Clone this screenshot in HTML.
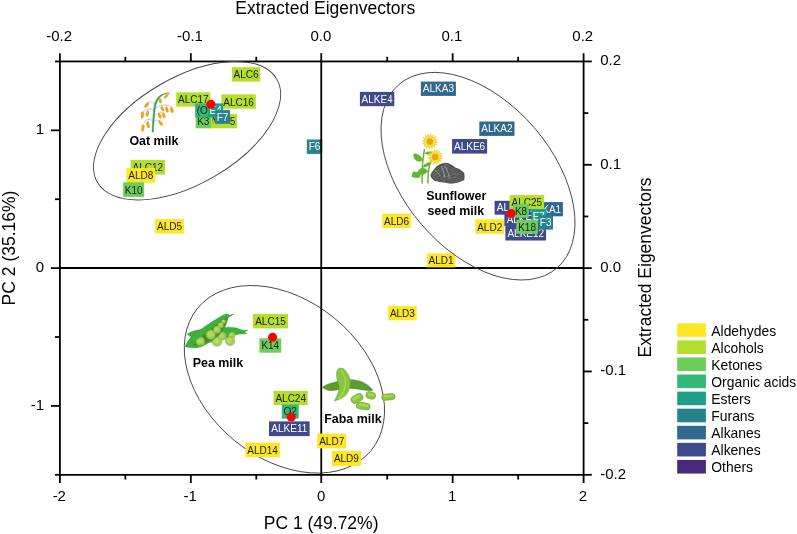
<!DOCTYPE html>
<html lang="en"><head><meta charset="utf-8"><title>PCA biplot of plant-based milks</title>
<style>
html,body{margin:0;padding:0;background:#fff;}
body{width:797px;height:534px;overflow:hidden;}
svg{display:block;will-change:transform;font-family:"Liberation Sans",sans-serif;}
.tick{font-size:15px;fill:#000;}
.ttl{font-size:17.5px;fill:#000;}
.leg{font-size:13.9px;fill:#000;}
.grp{font-size:12.45px;font-weight:bold;fill:#000;}
</style></head><body>
<svg width="797" height="534" viewBox="0 0 797 534">
<rect width="797" height="534" fill="#fff"/>
<g id="labels-under">
<rect x="306.8" y="139.5" width="15.4" height="14.4" fill="#26828E"/>
<text x="314.5" y="150.3" fill="#ffffff" font-size="10.0" text-anchor="middle">F6</text>
</g>
<g id="ellipses-under">
<ellipse cx="284.4" cy="379.3" rx="112.2" ry="79.0" transform="rotate(39.4 284.4 379.3)" fill="none" stroke="#444" stroke-width="0.9"/>
</g>
<g id="axes" stroke="#000" stroke-width="1.8" fill="none">
<rect x="59.9" y="61.45" width="523.7" height="413.4"/>
<line x1="321.25" y1="61.45" x2="321.25" y2="474.8"/>
<line x1="59.9" y1="268.0" x2="583.6" y2="268.0"/>
<line x1="59.90" y1="474.8" x2="59.90" y2="483.0"/>
<line x1="59.90" y1="61.45" x2="59.90" y2="53.2"/>
<line x1="125.36" y1="474.8" x2="125.36" y2="479.5"/>
<line x1="125.36" y1="61.45" x2="125.36" y2="56.8"/>
<line x1="190.83" y1="474.8" x2="190.83" y2="483.0"/>
<line x1="190.83" y1="61.45" x2="190.83" y2="53.2"/>
<line x1="256.29" y1="474.8" x2="256.29" y2="479.5"/>
<line x1="256.29" y1="61.45" x2="256.29" y2="56.8"/>
<line x1="321.25" y1="474.8" x2="321.25" y2="483.0"/>
<line x1="321.25" y1="61.45" x2="321.25" y2="53.2"/>
<line x1="387.21" y1="474.8" x2="387.21" y2="479.5"/>
<line x1="387.21" y1="61.45" x2="387.21" y2="56.8"/>
<line x1="452.68" y1="474.8" x2="452.68" y2="483.0"/>
<line x1="452.68" y1="61.45" x2="452.68" y2="53.2"/>
<line x1="518.14" y1="474.8" x2="518.14" y2="479.5"/>
<line x1="518.14" y1="61.45" x2="518.14" y2="56.8"/>
<line x1="583.60" y1="474.8" x2="583.60" y2="483.0"/>
<line x1="583.60" y1="61.45" x2="583.60" y2="53.2"/>
<line x1="59.9" y1="61.45" x2="55.0" y2="61.45"/>
<line x1="59.9" y1="130.34" x2="50.9" y2="130.34"/>
<line x1="59.9" y1="199.23" x2="55.0" y2="199.23"/>
<line x1="59.9" y1="268.13" x2="50.9" y2="268.13"/>
<line x1="59.9" y1="337.02" x2="55.0" y2="337.02"/>
<line x1="59.9" y1="405.91" x2="50.9" y2="405.91"/>
<line x1="59.9" y1="474.80" x2="55.0" y2="474.80"/>
<line x1="583.6" y1="61.45" x2="591.8" y2="61.45"/>
<line x1="583.6" y1="113.12" x2="588.3" y2="113.12"/>
<line x1="583.6" y1="164.79" x2="591.8" y2="164.79"/>
<line x1="583.6" y1="216.46" x2="588.3" y2="216.46"/>
<line x1="583.6" y1="268.12" x2="591.8" y2="268.12"/>
<line x1="583.6" y1="319.79" x2="588.3" y2="319.79"/>
<line x1="583.6" y1="371.46" x2="591.8" y2="371.46"/>
<line x1="583.6" y1="423.13" x2="588.3" y2="423.13"/>
<line x1="583.6" y1="474.80" x2="591.8" y2="474.80"/>
</g>
<g id="ticklabels" class="tick">
<text x="59.3" y="500.8" text-anchor="middle">-2</text>
<text x="190.2" y="500.8" text-anchor="middle">-1</text>
<text x="321.1" y="500.8" text-anchor="middle">0</text>
<text x="452.1" y="500.8" text-anchor="middle">1</text>
<text x="583.0" y="500.8" text-anchor="middle">2</text>
<text x="59.1" y="41.2" text-anchor="middle">-0.2</text>
<text x="190.0" y="41.2" text-anchor="middle">-0.1</text>
<text x="320.9" y="41.2" text-anchor="middle">0.0</text>
<text x="451.9" y="41.2" text-anchor="middle">0.1</text>
<text x="582.8" y="41.2" text-anchor="middle">0.2</text>
<text x="44.2" y="134.3" text-anchor="end">1</text>
<text x="44.2" y="272.1" text-anchor="end">0</text>
<text x="44.2" y="409.9" text-anchor="end">-1</text>
<text x="600.2" y="65.4">0.2</text>
<text x="600.2" y="168.7">0.1</text>
<text x="600.2" y="272.0">0.0</text>
<text x="600.2" y="375.4">-0.1</text>
<text x="600.2" y="478.7">-0.2</text>
</g>
<g id="titles" class="ttl">
<text x="325.2" y="13.8" text-anchor="middle">Extracted Eigenvectors</text>
<text x="321.1" y="529.2" text-anchor="middle">PC 1 (49.72%)</text>
<text transform="translate(14.7 248.0) rotate(-90)" text-anchor="middle">PC 2 (35.16%)</text>
<text transform="translate(651.3 267.5) rotate(-90)" text-anchor="middle">Extracted Eigenvectors</text>
</g>
<g id="pics">
<g id="oat" fill="none" stroke-linecap="round">
<path d="M155.2 104.2 C153.5 102.4 151.8 101.7 150.3 101.9 C148.8 102.1 147.6 102.8 146.7 103.7" stroke="#a8a8a8" stroke-width="0.6"/>
<path d="M153.9 110.0 C152 109.0 150.2 108.8 148.5 109.1 C146.4 109.5 144.4 110.2 143.1 111.6" stroke="#a8a8a8" stroke-width="0.6"/>
<path d="M150.0 109.0 C149 109.6 148.2 110.3 147.6 111.2" stroke="#a8a8a8" stroke-width="0.6"/>
<path d="M154.3 109.6 C156 107.6 158 106.2 160.2 105.5 C162.4 104.9 164.4 104.8 166.4 105.1 C168.6 105.5 170.4 106.2 171.8 107.3" stroke="#a8a8a8" stroke-width="0.6"/>
<path d="M161.0 105.4 C161.8 106.0 162.2 106.6 162.4 107.2" stroke="#a8a8a8" stroke-width="0.6"/>
<path d="M166.0 105.1 C166.6 105.8 166.9 106.4 167.0 107.0" stroke="#a8a8a8" stroke-width="0.6"/>
<path d="M153.9 117.7 C154.8 115.8 156 114.4 157.5 113.6 C159 112.8 160.5 112.6 162.0 112.7 C162.8 112.8 163.4 113.0 163.8 113.2" stroke="#a8a8a8" stroke-width="0.6"/>
<path d="M158.6 113.2 C159.2 113.6 159.5 114.0 159.7 114.4" stroke="#a8a8a8" stroke-width="0.6"/>
<path d="M153.0 121.2 C151.6 119.9 150 119.3 148.5 119.4 C146.6 119.6 145.0 120.8 144.0 122.6" stroke="#a8a8a8" stroke-width="0.6"/>
<path d="M148.6 119.4 C148.3 120.2 148.1 121.0 148.0 121.8" stroke="#a8a8a8" stroke-width="0.6"/>
<path d="M153.4 122.6 C154.4 121.3 155.4 120.6 156.6 120.3 C157.8 120.1 158.8 120.2 159.7 120.8" stroke="#a8a8a8" stroke-width="0.6"/>
<path d="M152.0 132.0 C152.3 124 152.8 116 153.7 108.6 C154.4 103.5 155.6 99.8 158.2 97.0 C160.4 94.8 163 93.8 165.6 93.3 L165.7 94.0 C163.4 94.6 161.2 95.8 159.4 97.9 C157.2 100.5 156.0 104.0 155.4 108.8 C154.4 116 153.8 124 153.5 132.0Z" fill="#2F9F5B" stroke="#2F9F5B" stroke-width="0.3"/>
</g>
<g id="oat-grains" fill="#EDA51C" stroke="#D98F12" stroke-width="0.3">
<ellipse cx="167.3" cy="93.6" rx="1.0" ry="2.5" transform="rotate(80 167.3 93.6)"/>
<ellipse cx="166.0" cy="96.5" rx="1.05" ry="2.4" transform="rotate(55 166.0 96.5)"/>
<ellipse cx="160.3" cy="100.6" rx="1.3" ry="2.8" transform="rotate(-18 160.3 100.6)"/>
<ellipse cx="146.7" cy="105.1" rx="1.4" ry="3.0" transform="rotate(40 146.7 105.1)"/>
<ellipse cx="142.4" cy="115.0" rx="1.4" ry="3.4" transform="rotate(5 142.4 115.0)"/>
<ellipse cx="147.4" cy="113.6" rx="1.3" ry="3.0" transform="rotate(10 147.4 113.6)"/>
<ellipse cx="162.4" cy="108.8" rx="1.3" ry="2.6" transform="rotate(-30 162.4 108.8)"/>
<ellipse cx="166.9" cy="109.6" rx="1.3" ry="3.0" transform="rotate(-15 166.9 109.6)"/>
<ellipse cx="171.8" cy="110.0" rx="1.4" ry="3.0" transform="rotate(-15 171.8 110.0)"/>
<ellipse cx="159.7" cy="115.9" rx="1.4" ry="2.9" transform="rotate(-25 159.7 115.9)"/>
<ellipse cx="163.8" cy="115.4" rx="1.3" ry="2.8" transform="rotate(-15 163.8 115.4)"/>
<ellipse cx="142.9" cy="128.0" rx="1.4" ry="3.6" transform="rotate(8 142.9 128.0)"/>
<ellipse cx="148.0" cy="124.8" rx="1.4" ry="3.3" transform="rotate(-12 148.0 124.8)"/>
<ellipse cx="160.6" cy="123.0" rx="1.4" ry="2.9" transform="rotate(-35 160.6 123.0)"/>
</g>
<g id="sunflower">
<path d="M422.1 183.6 C422.0 176 422.2 170 422.5 165 C422.9 159 423.6 154 424.4 149.2" fill="none" stroke="#6DB534" stroke-width="1.5"/>
<path d="M428.0 183.6 C428.0 179 428.1 176 428.3 173 C428.6 169.5 429.2 166.5 430.0 164.0 C430.6 162.6 431.4 161.6 432.2 161.0" fill="none" stroke="#6DB534" stroke-width="1.5"/>
<path d="M422.6 160.2 C421.8 157.6 419.6 155.0 416.4 153.9 C415.4 153.6 414.4 153.8 413.5 154.3 C413.6 156.0 414.0 157.6 414.8 158.9 C416.4 161.2 419.6 162.2 422.6 160.2Z" fill="#63B72F" stroke="#4C9A24" stroke-width="0.4"/>
<path d="M424.8 153.4 C426.6 151.8 429.6 151.4 432.2 152.2 C430.6 154.2 427.4 154.8 424.8 153.4Z" fill="#63B72F" stroke="#4C9A24" stroke-width="0.4"/>
<path d="M422.8 166.9 C424.0 164.4 427.2 162.4 430.6 162.3 C430.0 165.0 426.8 167.6 422.8 166.9Z" fill="#63B72F" stroke="#4C9A24" stroke-width="0.4"/>
<path d="M417.5 172.5 C418.6 170.0 420.4 168.2 422.6 167.9 C425.0 168.2 426.8 169.6 427.8 171.3 C426.6 173.2 424.6 174.2 422.6 174.2 C420.6 174.2 418.8 173.6 417.5 172.5Z" fill="#63B72F" stroke="#4C9A24" stroke-width="0.4"/>
<path d="M411.8 176.4 C412.0 174.6 412.6 173.0 413.6 171.8 C416.2 171.8 418.8 172.8 420.5 174.6 C420.4 175.8 420.0 176.8 419.2 177.5 C416.8 177.9 414.2 177.4 411.8 176.4Z" fill="#63B72F" stroke="#4C9A24" stroke-width="0.4"/>
<polygon points="437.76,142.29 434.89,143.02 436.86,145.24 433.92,144.82 434.90,147.62 432.35,146.10 432.18,149.06 430.40,146.69 429.11,149.36 428.38,146.49 426.16,148.46 426.58,145.52 423.78,146.50 425.30,143.95 422.34,143.78 424.71,142.00 422.04,140.71 424.91,139.98 422.94,137.76 425.88,138.18 424.90,135.38 427.45,136.90 427.62,133.94 429.40,136.31 430.69,133.64 431.42,136.51 433.64,134.54 433.22,137.48 436.02,136.50 434.50,139.05 437.46,139.22 435.09,141.00" fill="#F6E23A" stroke="#D9BE28" stroke-width="0.4" stroke-linejoin="round"/>
<circle cx="429.9" cy="141.5" r="3.2" fill="#EBA21C"/>
<polygon points="442.66,158.91 439.78,159.19 441.36,161.62 438.60,160.78 439.13,163.62 436.89,161.79 436.30,164.62 434.93,162.07 433.29,164.46 433.01,161.58 430.58,163.16 431.42,160.40 428.58,160.93 430.41,158.69 427.58,158.10 430.13,156.73 427.74,155.09 430.62,154.81 429.04,152.38 431.80,153.22 431.27,150.38 433.51,152.21 434.10,149.38 435.47,151.93 437.11,149.54 437.39,152.42 439.82,150.84 438.98,153.60 441.82,153.07 439.99,155.31 442.82,155.90 440.27,157.27" fill="#F6E23A" stroke="#D9BE28" stroke-width="0.4" stroke-linejoin="round"/>
<circle cx="435.2" cy="157.0" r="3.2" fill="#EBA21C"/>
<path d="M431.5 176 C432 170 437 164.5 443 163.2 C448 162.6 452 164.5 455 167.5 C460 168.5 464 172 464.6 176 C464.8 180 460 183 453 183.2 C446 183.4 437 182 433.5 179.6 C432 178.6 431.4 177.4 431.5 176Z" fill="#4f4f4f"/>
<g stroke="#727272" stroke-width="0.35">
<ellipse cx="436.5" cy="172.5" rx="6.5" ry="3.4" transform="rotate(-35 436.5 172.5)" fill="#4f4f4f"/>
<ellipse cx="442.5" cy="167.5" rx="7.8" ry="3.6" transform="rotate(-20 442.5 167.5)" fill="#4f4f4f"/>
<ellipse cx="450.0" cy="168.2" rx="7.0" ry="3.2" transform="rotate(25 450.0 168.2)" fill="#4f4f4f"/>
<ellipse cx="456.5" cy="172.8" rx="8.0" ry="3.4" transform="rotate(12 456.5 172.8)" fill="#4f4f4f"/>
<ellipse cx="439.5" cy="177.8" rx="8.0" ry="3.6" transform="rotate(12 439.5 177.8)" fill="#4f4f4f"/>
<ellipse cx="449.5" cy="177.0" rx="8.5" ry="3.6" transform="rotate(-14 449.5 177.0)" fill="#4f4f4f"/>
<ellipse cx="458.5" cy="177.2" rx="6.2" ry="3.0" transform="rotate(22 458.5 177.2)" fill="#4f4f4f"/>
<ellipse cx="446.0" cy="172.2" rx="7.5" ry="3.2" transform="rotate(55 446.0 172.2)" fill="#4f4f4f"/>
<ellipse cx="452.5" cy="180.6" rx="7.5" ry="2.7" transform="rotate(-6 452.5 180.6)" fill="#4f4f4f"/>
<ellipse cx="434.6" cy="177.0" rx="4.6" ry="2.8" transform="rotate(50 434.6 177.0)" fill="#4f4f4f"/>
</g>
<path d="M441.6 166.6 C443.4 170 444.2 173.6 444.4 177 M444.6 166.0 C447 169.6 448.6 173.4 449.4 177.4 M434.8 170.4 C437 172 438.8 173.8 440.2 175.8" fill="none" stroke="#d8d8d8" stroke-width="0.6" stroke-linecap="round"/>
<g stroke="#8e8e8e" stroke-width="0.35" fill="none">
<path d="M431.6 171.4 L441.4 171.4" transform="rotate(-35 436.5 172.5)"/>
<path d="M431.6 173.6 L441.4 173.6" transform="rotate(-35 436.5 172.5)"/>
<path d="M436.6 166.3 L448.4 166.3" transform="rotate(-20 442.5 167.5)"/>
<path d="M436.6 168.7 L448.4 168.7" transform="rotate(-20 442.5 167.5)"/>
<path d="M444.8 167.1 L455.2 167.1" transform="rotate(25 450.0 168.2)"/>
<path d="M444.8 169.3 L455.2 169.3" transform="rotate(25 450.0 168.2)"/>
<path d="M450.5 171.7 L462.5 171.7" transform="rotate(12 456.5 172.8)"/>
<path d="M450.5 173.9 L462.5 173.9" transform="rotate(12 456.5 172.8)"/>
<path d="M433.5 176.6 L445.5 176.6" transform="rotate(12 439.5 177.8)"/>
<path d="M433.5 179.0 L445.5 179.0" transform="rotate(12 439.5 177.8)"/>
<path d="M443.1 175.8 L455.9 175.8" transform="rotate(-14 449.5 177.0)"/>
<path d="M443.1 178.2 L455.9 178.2" transform="rotate(-14 449.5 177.0)"/>
<path d="M453.9 176.2 L463.1 176.2" transform="rotate(22 458.5 177.2)"/>
<path d="M453.9 178.2 L463.1 178.2" transform="rotate(22 458.5 177.2)"/>
<path d="M440.4 171.1 L451.6 171.1" transform="rotate(55 446.0 172.2)"/>
<path d="M440.4 173.3 L451.6 173.3" transform="rotate(55 446.0 172.2)"/>
<path d="M446.9 179.7 L458.1 179.7" transform="rotate(-6 452.5 180.6)"/>
<path d="M446.9 181.5 L458.1 181.5" transform="rotate(-6 452.5 180.6)"/>
<path d="M431.2 176.1 L438.1 176.1" transform="rotate(50 434.6 177.0)"/>
<path d="M431.2 177.9 L438.1 177.9" transform="rotate(50 434.6 177.0)"/>
</g>
</g>
<g id="pea">
<path d="M187.2 334.3 C191 331.5 196 330.2 201.5 329.6 L224.0 327.6 C230 326.6 235.5 327.2 240.5 329.4 C243 330.3 245.5 330.4 247.9 330.2 L244.6 332.0 L247.0 333.6 C243 334.2 240 334.0 237.4 334.4 C231 335.6 226 338.6 221 340.6 C212 344 196 342 187.2 334.3Z" fill="#3DB23A" stroke="#2F9A2E" stroke-width="0.4"/>
<circle cx="222.0" cy="336.0" r="4.1" fill="#A4CB58" stroke="#8DB648" stroke-width="0.5"/>
<circle cx="221.4" cy="335.4" r="2.25" fill="#B4D66A"/>
<circle cx="232.0" cy="335.6" r="3.3" fill="#A4CB58" stroke="#8DB648" stroke-width="0.5"/>
<circle cx="231.4" cy="335.0" r="1.81" fill="#B4D66A"/>
<circle cx="217.0" cy="341.4" r="5.0" fill="#A4CB58" stroke="#8DB648" stroke-width="0.5"/>
<circle cx="216.4" cy="340.79999999999995" r="2.75" fill="#B4D66A"/>
<circle cx="230.1" cy="341.0" r="4.7" fill="#A4CB58" stroke="#8DB648" stroke-width="0.5"/>
<circle cx="229.5" cy="340.4" r="2.59" fill="#B4D66A"/>
<path d="M185.2 346.5 C186.5 343.5 188 341 189.9 338.7 C193 335.5 197 332.4 200.8 329.7 C204 327.5 207 325.3 209.8 323.4 C213 321.4 216 319.5 218.8 317.9 C221 316.6 223.3 315.3 225.2 314.5 C226.8 314.0 228.2 314.4 229.2 315.2 L233.8 314.2 L229.8 316.4 C229.4 317.0 228.6 317.5 227.9 317.9 C227.2 321.5 226.0 325.0 224.3 327.9 C222.6 331.0 220.5 333.6 217.9 336.0 C215.6 338.0 213.2 339.8 210.7 341.4 C208.0 343.1 205.4 344.6 202.6 345.9 C199.8 347.0 196.8 347.6 193.6 347.7 C190.8 347.7 187.8 347.3 185.2 346.5Z" fill="#46B138" stroke="#2F8F2A" stroke-width="0.5"/>
<path d="M192.5 345.2 C196 341.5 199.5 338.2 203.0 335.2 C206 332.7 209 330.2 211.8 328.0 C215 325.5 218 323.2 220.8 321.0 C223.2 319.3 225.6 317.8 227.6 317.0 C227.0 320.6 225.8 324.2 224.0 327.2 C222.2 330.2 220 332.8 217.4 335.0 C215 337.0 212.6 338.8 210.0 340.4 C207.4 342.0 204.8 343.4 202.0 344.4 C199 345.5 195.6 345.8 192.5 345.2Z" fill="#4B8B1D"/>
<circle cx="200.3" cy="341.4" r="4.3" fill="#A4CB58" stroke="#8DB648" stroke-width="0.4"/>
<circle cx="199.9" cy="341.0" r="2.37" fill="#B4D66A"/>
<circle cx="210.7" cy="334.6" r="4.6" fill="#A4CB58" stroke="#8DB648" stroke-width="0.4"/>
<circle cx="210.29999999999998" cy="334.20000000000005" r="2.53" fill="#B4D66A"/>
<circle cx="217.0" cy="329.7" r="3.6" fill="#A4CB58" stroke="#8DB648" stroke-width="0.4"/>
<circle cx="216.6" cy="329.3" r="1.98" fill="#B4D66A"/>
<circle cx="220.7" cy="325.2" r="2.7" fill="#A4CB58" stroke="#8DB648" stroke-width="0.4"/>
<circle cx="220.29999999999998" cy="324.8" r="1.49" fill="#B4D66A"/>
<circle cx="223.6" cy="321.5" r="2.0" fill="#A4CB58" stroke="#8DB648" stroke-width="0.4"/>
<circle cx="223.2" cy="321.1" r="1.10" fill="#B4D66A"/>
<path d="M185.2 346.5 C186.5 343.5 188 341 189.9 338.7 C193 335.5 197 332.4 200.8 329.7 C204 327.5 207 325.3 209.8 323.4 C213 321.4 216 319.5 218.8 317.9 C221 316.6 223.3 315.3 225.2 314.5 C226.8 314.0 228.2 314.4 229.2 315.2 L227.9 316.7 C225.6 317.6 223.2 319.0 220.7 320.7 C217.6 322.9 214.6 325.4 211.6 327.9 C208.6 330.3 205.6 332.7 202.6 335.1 C198 338.8 193.5 342.0 189.0 344.4 C187.6 345.2 186.4 345.9 185.2 346.5Z" fill="#3DB23A" stroke="#2F9A2E" stroke-width="0.3"/>
<path d="M185.2 346.5 C187.8 347.3 190.8 347.7 193.6 347.7 C196.8 347.6 199.8 347.0 202.6 345.9 L202.0 344.4 C199 345.5 195.6 345.8 192.5 345.2 C190 346.0 187.6 346.4 185.2 346.5Z" fill="#46B138"/>
</g>
<g id="faba">
<path d="M322.3 387.3 C325 385.2 328 384.0 331 383.2 C337 381.4 345 379.6 351 379.7 C356 379.8 361 381.0 365 383.4 C368.5 385.4 371 387.8 372.9 390.4 C370 390.8 367.5 390.5 365.5 390.2 C360 389.4 354 388.4 349 388.2 C343 388.0 338 390.0 333 390.6 C329 391.0 325 389.6 322.3 387.3Z" fill="#5C9B2D" stroke="#4A8226" stroke-width="0.5"/>
<path d="M340.5 368.1 C342.6 368.2 344.2 369.0 345.3 370.4 C347.2 372.8 348.4 374.8 349.0 376.6 C350.0 379.2 350.5 381.0 350.3 383.0 C350.2 385.0 350.0 386.6 349.4 388.0 C348.8 390.2 348.2 391.8 347.0 393.4 C346.0 395.0 344.8 396.0 343.4 397.0 C342.0 398.0 340.4 398.8 338.8 399.4 C337.4 400.0 336.0 400.4 334.3 400.9 C335.0 399.8 335.6 398.8 336.1 397.6 C337.0 395.8 337.8 394.2 338.2 392.4 C338.9 390.4 339.1 388.4 339.0 386.4 C338.9 384.2 338.0 382.4 337.5 380.5 C336.9 378.4 336.6 376.4 336.6 374.5 C336.6 372.8 336.8 371.2 337.5 369.9 C338.2 368.8 339.2 368.1 340.5 368.1Z" fill="#8AC640" stroke="#67A22C" stroke-width="0.6"/>
<path d="M341.2 370.5 C344.5 374.5 346.0 380.0 345.2 386.0 C344.6 390.5 342.0 395.0 338.8 398.2" fill="none" stroke="#A5D65A" stroke-width="1.4" stroke-linecap="round"/>
<rect x="350.6" y="394.7" width="12.8" height="7.4" rx="3.7" transform="rotate(-30 357.0 398.4)" fill="#8AC640" stroke="#67A22C" stroke-width="0.6"/>
<rect x="352.2" y="395.9" width="9.2" height="2.7" rx="1.9" transform="rotate(-30 357.0 398.4)" fill="#A5D65A"/>
<rect x="365.8" y="392.0" width="9.8" height="6.8" rx="3.4" transform="rotate(14 370.7 395.4)" fill="#8AC640" stroke="#67A22C" stroke-width="0.6"/>
<rect x="367.4" y="393.2" width="6.2" height="2.4" rx="1.7" transform="rotate(14 370.7 395.4)" fill="#A5D65A"/>
<rect x="356.2" y="402.6" width="14.0" height="6.8" rx="3.4" transform="rotate(9 363.2 406.0)" fill="#8AC640" stroke="#67A22C" stroke-width="0.6"/>
<rect x="357.8" y="403.8" width="10.4" height="2.4" rx="1.7" transform="rotate(9 363.2 406.0)" fill="#A5D65A"/>
<rect x="381.7" y="393.8" width="13.4" height="6.2" rx="3.1" transform="rotate(-5 388.4 396.9)" fill="#8AC640" stroke="#67A22C" stroke-width="0.6"/>
<rect x="383.3" y="395.0" width="9.8" height="2.1" rx="1.6" transform="rotate(-5 388.4 396.9)" fill="#A5D65A"/>
</g>
</g>
<g id="labels">
<rect x="232.0" y="67.2" width="28.2" height="14.4" fill="#B4DE2C"/>
<text x="246.1" y="78.3" fill="#1a1a1a" font-size="10.0" text-anchor="middle">ALC6</text>
<rect x="176.2" y="92.3" width="34.2" height="14.3" fill="#B4DE2C"/>
<text x="193.3" y="103.3" fill="#1a1a1a" font-size="10.0" text-anchor="middle">ALC17</text>
<rect x="221.4" y="94.4" width="34.4" height="14.3" fill="#B4DE2C"/>
<text x="238.6" y="105.5" fill="#1a1a1a" font-size="10.0" text-anchor="middle">ALC16</text>
<clipPath id="c5"><rect x="212.6" y="110" width="13" height="12.2"/><rect x="229.9" y="110" width="20" height="20"/></clipPath>
<rect x="208.7" y="113.9" width="28.3" height="14.4" fill="#B4DE2C"/>
<text x="222.8" y="125.0" fill="#1a1a1a" font-size="10.0" text-anchor="middle" clip-path="url(#c5)">ALC5</text>
<rect x="195.7" y="114.1" width="15.3" height="14.2" fill="#6DCD59"/>
<text x="203.3" y="125.1" fill="#1a1a1a" font-size="10.0" text-anchor="middle">K3</text>
<rect x="195.1" y="103.4" width="14.4" height="14.0" fill="#35B779"/>
<text x="202.3" y="114.3" fill="#1a1a1a" font-size="10.0" text-anchor="middle">(O</text>
<rect x="208.2" y="103.4" width="14.9" height="14.0" fill="#1F9E89"/>
<text x="215.6" y="114.0" fill="#ffffff" font-size="10.0" text-anchor="middle">E4</text>
<rect x="215.2" y="110.1" width="14.8" height="13.7" fill="#26828E"/>
<text x="222.6" y="120.5" fill="#ffffff" font-size="10.0" text-anchor="middle">F7</text>
<circle cx="210.9" cy="104.2" r="4.5" fill="#FF0000"/>
<rect x="130.6" y="159.9" width="34.4" height="14.7" fill="#B4DE2C"/>
<text x="147.8" y="171.2" fill="#1a1a1a" font-size="10.0" text-anchor="middle">ALC12</text>
<rect x="126.4" y="168.1" width="28.8" height="14.6" fill="#FDE725"/>
<text x="140.8" y="179.3" fill="#1a1a1a" font-size="10.0" text-anchor="middle">ALD8</text>
<rect x="123.2" y="182.3" width="21.0" height="14.6" fill="#6DCD59"/>
<text x="133.7" y="193.5" fill="#1a1a1a" font-size="10.0" text-anchor="middle">K10</text>
<rect x="155.1" y="219.1" width="28.8" height="14.4" fill="#FDE725"/>
<text x="169.5" y="230.2" fill="#1a1a1a" font-size="10.0" text-anchor="middle">ALD5</text>
<rect x="359.9" y="91.9" width="34.4" height="14.3" fill="#3E4A89"/>
<text x="377.1" y="102.7" fill="#ffffff" font-size="10.0" text-anchor="middle">ALKE4</text>
<rect x="420.9" y="81.6" width="35.0" height="14.3" fill="#31688E"/>
<text x="438.4" y="92.3" fill="#ffffff" font-size="10.0" text-anchor="middle">ALKA3</text>
<rect x="479.3" y="121.5" width="35.2" height="14.4" fill="#31688E"/>
<text x="496.9" y="132.3" fill="#ffffff" font-size="10.0" text-anchor="middle">ALKA2</text>
<rect x="452.1" y="139.0" width="35.0" height="14.6" fill="#3E4A89"/>
<text x="469.6" y="149.9" fill="#ffffff" font-size="10.0" text-anchor="middle">ALKE6</text>
<rect x="382.3" y="213.7" width="28.5" height="14.4" fill="#FDE725"/>
<text x="396.6" y="224.8" fill="#1a1a1a" font-size="10.0" text-anchor="middle">ALD6</text>
<rect x="427.1" y="253.4" width="28.1" height="14.0" fill="#FDE725"/>
<text x="441.1" y="264.3" fill="#1a1a1a" font-size="10.0" text-anchor="middle">ALD1</text>
<rect x="494.6" y="200.8" width="35.4" height="13.9" fill="#3E4A89"/>
<text x="512.3" y="211.3" fill="#ffffff" font-size="10.0" text-anchor="middle">ALKE5</text>
<rect x="528.3" y="202.1" width="34.6" height="14.2" fill="#31688E"/>
<text x="545.6" y="212.8" fill="#ffffff" font-size="10.0" text-anchor="middle">ALKA1</text>
<rect x="509.6" y="195.1" width="34.5" height="13.9" fill="#B4DE2C"/>
<text x="526.9" y="206.0" fill="#1a1a1a" font-size="10.0" text-anchor="middle">ALC25</text>
<rect x="504.4" y="212.0" width="35.6" height="14.2" fill="#3E4A89"/>
<text x="522.2" y="222.7" fill="#ffffff" font-size="10.0" text-anchor="middle">ALKE9</text>
<rect x="505.4" y="226.0" width="40.7" height="14.5" fill="#3E4A89"/>
<text x="525.8" y="236.8" fill="#ffffff" font-size="10.0" text-anchor="middle">ALKE12</text>
<rect x="475.4" y="219.4" width="28.6" height="14.4" fill="#FDE725"/>
<text x="489.7" y="230.5" fill="#1a1a1a" font-size="10.0" text-anchor="middle">ALD2</text>
<rect x="513.2" y="203.9" width="15.7" height="13.9" fill="#6DCD59"/>
<text x="521.0" y="214.8" fill="#1a1a1a" font-size="10.0" text-anchor="middle">K8</text>
<rect x="531.2" y="209.0" width="15.2" height="13.9" fill="#1F9E89"/>
<text x="538.8" y="219.5" fill="#ffffff" font-size="10.0" text-anchor="middle">E7</text>
<rect x="538.4" y="215.2" width="14.6" height="14.4" fill="#26828E"/>
<text x="545.7" y="226.0" fill="#ffffff" font-size="10.0" text-anchor="middle">F3</text>
<rect x="516.3" y="219.9" width="21.6" height="13.9" fill="#6DCD59"/>
<text x="527.1" y="230.8" fill="#1a1a1a" font-size="10.0" text-anchor="middle">K18</text>
<circle cx="511.1" cy="213.5" r="4.5" fill="#FF0000"/>
<rect x="253.0" y="313.9" width="35.0" height="14.5" fill="#B4DE2C"/>
<text x="270.5" y="325.0" fill="#1a1a1a" font-size="10.0" text-anchor="middle">ALC15</text>
<rect x="259.4" y="338.4" width="21.8" height="14.3" fill="#6DCD59"/>
<text x="270.3" y="349.4" fill="#1a1a1a" font-size="10.0" text-anchor="middle">K14</text>
<circle cx="272.6" cy="337.3" r="4.5" fill="#FF0000"/>
<rect x="273.7" y="390.9" width="34.0" height="14.1" fill="#B4DE2C"/>
<text x="290.7" y="401.8" fill="#1a1a1a" font-size="10.0" text-anchor="middle">ALC24</text>
<rect x="281.8" y="404.5" width="16.9" height="14.1" fill="#35B779"/>
<text x="290.2" y="415.4" fill="#1a1a1a" font-size="10.0" text-anchor="middle">O2</text>
<rect x="269.0" y="421.4" width="40.6" height="14.7" fill="#3E4A89"/>
<text x="289.3" y="432.4" fill="#ffffff" font-size="10.0" text-anchor="middle">ALKE11</text>
<circle cx="291.2" cy="417.1" r="4.5" fill="#FF0000"/>
<rect x="245.4" y="442.7" width="34.5" height="14.5" fill="#FDE725"/>
<text x="262.6" y="453.8" fill="#1a1a1a" font-size="10.0" text-anchor="middle">ALD14</text>
<rect x="317.2" y="433.6" width="29.0" height="14.8" fill="#FDE725"/>
<text x="331.7" y="444.9" fill="#1a1a1a" font-size="10.0" text-anchor="middle">ALD7</text>
<rect x="331.9" y="451.0" width="29.1" height="14.9" fill="#FDE725"/>
<text x="346.4" y="462.3" fill="#1a1a1a" font-size="10.0" text-anchor="middle">ALD9</text>
<rect x="388.1" y="306.0" width="28.6" height="14.3" fill="#FDE725"/>
<text x="402.4" y="317.0" fill="#1a1a1a" font-size="10.0" text-anchor="middle">ALD3</text>
</g>
<g id="ellipses-over">
<ellipse cx="187.1" cy="130.7" rx="103.5" ry="53.3" transform="rotate(-29.9 187.1 130.7)" fill="none" stroke="#444" stroke-width="0.9"/>
<ellipse cx="478.0" cy="176.2" rx="121.1" ry="74.3" transform="rotate(49.3 478.0 176.2)" fill="none" stroke="#444" stroke-width="0.9"/>
</g>
<g id="groups" class="grp">
<text x="129.4" y="144.6">Oat milk</text>
<text x="456.2" y="199.5" text-anchor="middle">Sunflower</text>
<text x="455.8" y="214.6" text-anchor="middle">seed milk</text>
<text x="192.7" y="366.7">Pea milk</text>
<text x="324.2" y="423.3">Faba milk</text>
</g>
<g id="legend">
<rect x="677.2" y="323.30" width="28.7" height="13.6" fill="#FDE725"/>
<text class="leg" x="711.3" y="335.50">Aldehydes</text>
<rect x="677.2" y="340.38" width="28.7" height="13.6" fill="#B4DE2C"/>
<text class="leg" x="711.3" y="352.58">Alcohols</text>
<rect x="677.2" y="357.46" width="28.7" height="13.6" fill="#6DCD59"/>
<text class="leg" x="711.3" y="369.66">Ketones</text>
<rect x="677.2" y="374.54" width="28.7" height="13.6" fill="#35B779"/>
<text class="leg" x="711.3" y="386.74">Organic acids</text>
<rect x="677.2" y="391.62" width="28.7" height="13.6" fill="#1F9E89"/>
<text class="leg" x="711.3" y="403.82">Esters</text>
<rect x="677.2" y="408.70" width="28.7" height="13.6" fill="#26828E"/>
<text class="leg" x="711.3" y="420.90">Furans</text>
<rect x="677.2" y="425.78" width="28.7" height="13.6" fill="#31688E"/>
<text class="leg" x="711.3" y="437.98">Alkanes</text>
<rect x="677.2" y="442.86" width="28.7" height="13.6" fill="#3E4A89"/>
<text class="leg" x="711.3" y="455.06">Alkenes</text>
<rect x="677.2" y="459.94" width="28.7" height="13.6" fill="#482878"/>
<text class="leg" x="711.3" y="472.14">Others</text>
</g>
</svg></body></html>
